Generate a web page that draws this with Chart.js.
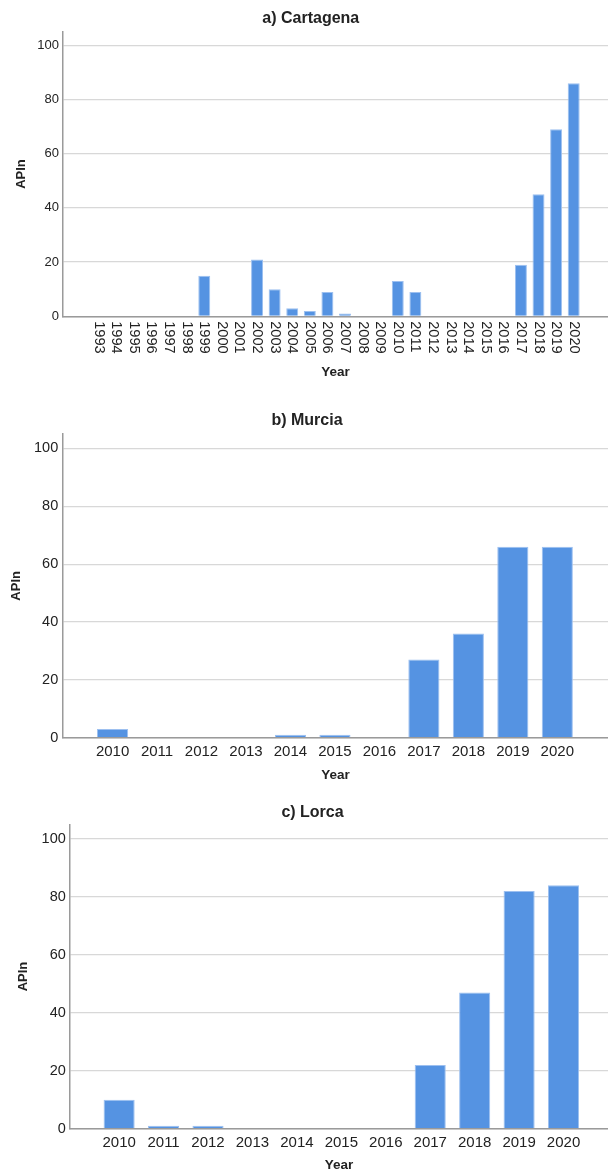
<!DOCTYPE html>
<html>
<head>
<meta charset="utf-8">
<script src="https://cdn.jsdelivr.net/npm/chart.js@4.4.1/dist/chart.umd.min.js"></script>
<style>
html,body{margin:0;padding:0;background:#fff;width:608px;height:1172px;overflow:hidden;position:relative;}
.panel{position:absolute;left:0;width:608px;height:390px;}
.panel canvas{display:block;}
.ttl{position:absolute;transform:translate(-50%,-50%);font:bold 16px "Liberation Sans",Arial,sans-serif;color:#222;white-space:nowrap;line-height:20px;}
</style>
</head>
<body>
<div class="panel" style="top:0px"><canvas id="chartA" width="608" height="390"></canvas></div>
<div class="panel" style="top:395px"><canvas id="chartB" width="608" height="390"></canvas></div>
<div class="panel" style="top:785px"><canvas id="chartC" width="608" height="390"></canvas></div>
<div class="ttl" style="left:310.8px;top:18.3px">a) Cartagena</div>
<div class="ttl" style="left:307px;top:420px">b) Murcia</div>
<div class="ttl" style="left:312.5px;top:811.7px">c) Lorca</div>
<script>
// ---- data ----
const cartagenaYears = [1993,1994,1995,1996,1997,1998,1999,2000,2001,2002,2003,2004,2005,2006,2007,2008,2009,2010,2011,2012,2013,2014,2015,2016,2017,2018,2019,2020];
const cartagenaAPIn  = [0,0,0,0,0,0,15,0,0,21,10,3,2,9,1,0,0,13,9,0,0,0,0,0,19,45,69,86];
const murciaYears = [2010,2011,2012,2013,2014,2015,2016,2017,2018,2019,2020];
const murciaAPIn  = [3,0,0,0,1,1,0,27,36,66,66];
const lorcaYears = [2010,2011,2012,2013,2014,2015,2016,2017,2018,2019,2020];
const lorcaAPIn  = [10,1,1,0,0,0,0,22,47,82,84];
const yTickValues = [0,20,40,60,80,100];
const xTitle = 'Year';
const yTitle = 'APIn';

// ---- style ----
const FONT = '"Liberation Sans", Arial, sans-serif';
const TXT = '#222222';
const BAR = '#5593e2';
const BAR_EDGE = '#9dc0f0';
const GRID = '#d8d8d8';
const AXIS = '#9a9a9a';

const rotatedYearLabels = {
  id: 'rotatedYearLabels',
  afterDraw(chart) {
    const xs = chart.scales.x;
    const ctx = chart.ctx;
    ctx.save();
    ctx.fillStyle = TXT;
    ctx.font = '14.5px ' + FONT;
    ctx.textAlign = 'left';
    ctx.textBaseline = 'middle';
    xs.ticks.forEach(t => {
      const x = xs.getPixelForValue(t.value);
      ctx.save();
      ctx.translate(x, xs.top + 5);
      ctx.rotate(Math.PI / 2);
      ctx.fillText(String(t.value), 0, 0);
      ctx.restore();
    });
    ctx.restore();
  }
};

function makePanel(id, years, values, o) {
  return new Chart(document.getElementById(id), {
    type: 'bar',
    data: {
      datasets: [{
        data: years.map((y, i) => ({x: y, y: values[i]})),
        backgroundColor: BAR,
        borderColor: BAR_EDGE,
        borderWidth: 1,
        barPercentage: o.barPct,
        categoryPercentage: 1
      }]
    },
    options: {
      responsive: false,
      animation: false,
      devicePixelRatio: 1,
      layout: {padding: {top: o.top, left: 0, right: 0, bottom: 0}},
      plugins: {legend: {display: false}, tooltip: {enabled: false}, title: {display: false}},
      scales: {
        x: {
          type: 'linear',
          min: o.xMin,
          max: o.xMax,
          offset: false,
          grid: {display: false, drawTicks: false},
          border: {display: true, color: AXIS, width: 1.5},
          ticks: {
            display: o.xTicks, autoSkip: false, minRotation: 0, maxRotation: 0,
            padding: o.xPad, color: TXT, font: {family: FONT, size: o.xFont},
            callback: v => String(v)
          },
          afterBuildTicks: s => { s.ticks = years.map(v => ({value: v})); },
          afterFit: s => { s.height = o.xH; },
          title: {display: true, text: xTitle, color: TXT,
                  font: {family: FONT, size: 13.5, weight: 'bold'},
                  padding: {top: 0, bottom: o.yearPad}}
        },
        y: {
          min: 0,
          max: 105,
          grid: {color: GRID, lineWidth: 1.2, drawTicks: false},
          border: {display: true, color: AXIS, width: 1.5},
          ticks: {padding: o.yPad, color: TXT, font: {family: FONT, size: o.yFont}},
          afterBuildTicks: s => { s.ticks = yTickValues.map(v => ({value: v})); },
          afterFit: s => { s.width = o.left; },
          title: {display: true, text: yTitle, color: TXT,
                  font: {family: FONT, size: 13, weight: 'bold'},
                  padding: {top: o.apinPad, bottom: 0}}
        }
      }
    },
    plugins: o.rotated ? [rotatedYearLabels] : []
  });
}

makePanel('chartA', cartagenaYears, cartagenaAPIn, {
  top: 31.7, left: 63, xMin: 1990.97, xMax: 2021.95, barPct: 0.68,
  xH: 73.7, yearPad: 9.2, yFont: 13, yPad: 4, xTicks: false, xFont: 14.5, xPad: 5,
  apinPad: 13.5, rotated: true
});
makePanel('chartB', murciaYears, murciaAPIn, {
  top: 39, left: 63.2, xMin: 2008.89, xMax: 2021.14, barPct: 0.70,
  xH: 47.3, yearPad: 1.9, yFont: 14.5, yPad: 5, xTicks: true, xFont: 15, xPad: 5,
  apinPad: 8.9, rotated: false
});
makePanel('chartC', lorcaYears, lorcaAPIn, {
  top: 39.3, left: 69.8, xMin: 2008.89, xMax: 2021.0, barPct: 0.70,
  xH: 46.3, yearPad: 1.9, yFont: 14.5, yPad: 4, xTicks: true, xFont: 15, xPad: 5,
  apinPad: 15.5, rotated: false
});
</script>
</body>
</html>
